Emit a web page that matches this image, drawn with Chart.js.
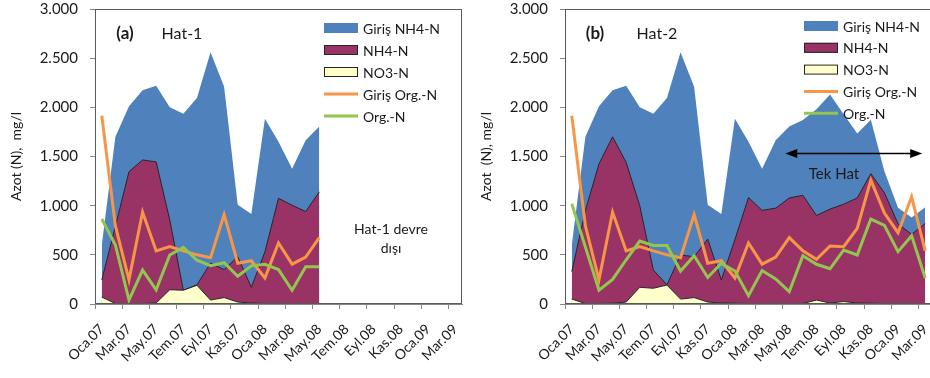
<!DOCTYPE html>
<html>
<head>
<meta charset="utf-8">
<script src="https://cdn.jsdelivr.net/npm/chart.js@4"></script>
<style>
  body { margin: 0; width: 930px; height: 378px; overflow: hidden; background: #fff; position: relative; }
  canvas { position: absolute; top: 0; }
  #hat1 { left: 0; }
  #hat2 { left: 470px; }
</style>
</head>
<body>
<canvas id="hat1" width="470" height="378"></canvas>
<canvas id="hat2" width="470" height="378"></canvas>
<script>
const months = ["Oca.07", "Şub.07", "Mar.07", "Nis.07", "May.07", "Haz.07", "Tem.07", "Ağu.07", "Eyl.07",
  "Eki.07", "Kas.07", "Ara.07", "Oca.08", "Şub.08", "Mar.08", "Nis.08", "May.08", "Haz.08", "Tem.08",
  "Ağu.08", "Eyl.08", "Eki.08", "Kas.08", "Ara.08", "Oca.09", "Şub.09", "Mar.09"];

// inlet (same for both lines)
const girisNH4 = [600, 1700, 2010, 2175, 2220, 2000, 1935, 2095, 2560, 2210, 1010, 915, 1885, 1650,
  1375, 1665, 1805, 1870, 1980, 2130, 1930, 1735, 1875, 1350, 980, 880, 985];
const girisOrg = [1915, 795, 245, 935, 540, 585, 540, 500, 470, 910, 415, 440, 265, 620, 405, 478,
  675, 540, 455, 590, 583, 770, 1260, 925, 725, 1090, 540];

// Hat-1 (out of service after May.08)
const hat1NH4 = [245, 790, 1345, 1465, 1445, 855, 140, 195, 415, 350, 480, 170, 530, 1075, 1005, 940, 1140];
const hat1NO3 = [70, 5, 5, 5, 10, 145, 140, 190, 40, 65, 20, 10, 5, 3, 2, 2, 2];
const hat1Org = [865, 600, 40, 345, 145, 498, 575, 445, 390, 420, 282, 388, 404, 350, 140, 380, 380];

// Hat-2
const hat2NH4 = [330, 950, 1425, 1700, 1440, 1000, 345, 195, 498, 481, 660, 244, 655, 1083, 952, 975,
  1078, 1105, 900, 965, 1015, 1078, 1325, 1130, 815, 709, 818];
const hat2NO3 = [50, 5, 5, 8, 20, 170, 160, 193, 50, 65, 20, 10, 8, 5, 3, 3, 3, 5, 40, 10, 25, 10, 8, 5, 3, 3, 3];
const hat2Org = [1020, 580, 140, 250, 450, 640, 595, 595, 335, 490, 270, 414, 335, 85, 340, 255, 125,
  490, 404, 358, 549, 498, 864, 800, 532, 695, 265];

const FONT = "Lato, 'Open Sans', sans-serif";
const AXIS = "#868686";
const TEXT = "#1a1a1a";

function fmt(v) {
  if (v < 1000) return String(v);
  return Math.floor(v / 1000) + "." + String(v % 1000).padStart(3, "0");
}

// frame, in-plot legend, labels and the arrow
const notes = {
  id: "notes",
  afterDraw(chart, args, o) {
    const { ctx, chartArea: a, scales: { x, y } } = chart;
    ctx.save();
    ctx.strokeStyle = "#595959";
    ctx.lineWidth = 1;
    ctx.strokeRect(a.left + 0.5, a.top + 0.5, a.width - 1, a.height - 1);

    ctx.font = "14px " + FONT;
    ctx.textBaseline = "middle";
    chart.data.datasets.forEach((ds, i) => {
      const lx = o.legendX, ly = o.legendY + i * o.legendStep;
      if (ds.fill) {
        ctx.fillStyle = ds.backgroundColor;
        ctx.fillRect(lx, ly - 5, 34, 10);
        if (ds.borderWidth) {
          ctx.strokeStyle = "#262626";
          ctx.strokeRect(lx + 0.5, ly - 4.5, 33, 9);
        }
      } else {
        ctx.strokeStyle = ds.borderColor;
        ctx.lineWidth = 3;
        ctx.beginPath();
        ctx.moveTo(lx, ly);
        ctx.lineTo(lx + 34, ly);
        ctx.stroke();
        ctx.lineWidth = 1;
      }
      ctx.fillStyle = TEXT;
      ctx.textAlign = "left";
      ctx.fillText(ds.label, lx + 39, ly + 1);
    });

    ctx.textAlign = "center";
    o.texts.forEach(t => {
      ctx.font = t.font + " " + FONT;
      ctx.fillStyle = TEXT;
      ctx.fillText(t.text, a.left + t.x, t.y);
    });

    if (o.arrow) {
      const x1 = x.getPixelForValue(o.arrow.from) - 4;
      const x2 = x.getPixelForValue(o.arrow.to) - 3;
      const yy = y.getPixelForValue(o.arrow.value);
      ctx.strokeStyle = "#000";
      ctx.fillStyle = "#000";
      ctx.lineWidth = 1.5;
      ctx.beginPath();
      ctx.moveTo(x1 + 8, yy);
      ctx.lineTo(x2 - 8, yy);
      ctx.stroke();
      [[x1, 1], [x2, -1]].forEach(([px, d]) => {
        ctx.beginPath();
        ctx.moveTo(px, yy);
        ctx.lineTo(px + d * 12, yy - 4.5);
        ctx.lineTo(px + d * 12, yy + 4.5);
        ctx.closePath();
        ctx.fill();
      });
    }
    ctx.restore();
  }
};

function makeChart(id, n, nh4, no3, org, yTitle, notesOpts) {
  return new Chart(document.getElementById(id), {
    type: "line",
    data: {
      labels: months,
      datasets: [
        { label: "Giriş NH4-N", data: girisNH4.slice(0, n), fill: "origin", backgroundColor: "#4F81BD",
          borderWidth: 0, order: 4 },
        { label: "NH4-N", data: nh4, fill: "origin", backgroundColor: "#993366", borderColor: "#262626",
          borderWidth: 1, order: 3 },
        { label: "NO3-N", data: no3, fill: "origin", backgroundColor: "#FFFFCC", borderColor: "#262626",
          borderWidth: 1, order: 2 },
        { label: "Giriş Org.-N", data: girisOrg.slice(0, n), fill: false, borderColor: "#F79646",
          borderWidth: 3, order: 1 },
        { label: "Org.-N", data: org, fill: false, borderColor: "#92C64E", borderWidth: 3, order: 0 }
      ]
    },
    options: {
      responsive: false,
      animation: false,
      events: [],
      layout: { padding: { top: 9, right: 8, left: 0, bottom: 0 } },
      elements: { point: { radius: 0 }, line: { tension: 0 } },
      plugins: { legend: { display: false }, tooltip: { enabled: false }, notes: notesOpts },
      scales: {
        x: {
          type: "category",
          offset: true,
          grid: {
            offset: true, drawOnChartArea: false, tickLength: 5,
            color: c => (c.index % 2 === 0 ? AXIS : "rgba(0,0,0,0)")
          },
          border: { color: AXIS },
          ticks: {
            autoSkip: false, maxRotation: 45, minRotation: 45, padding: 12, color: TEXT,
            font: { family: FONT, size: 14 },
            callback(v, i) { return i % 2 === 0 ? this.getLabelForValue(v) : ""; }
          },
          afterFit(s) { s.height = 74; s.paddingLeft = 0; s.paddingRight = 0; }
        },
        y: {
          min: 0, max: 3000,
          grid: { drawOnChartArea: false, tickLength: 5, color: AXIS },
          border: { color: AXIS },
          ticks: { stepSize: 500, padding: 12, color: TEXT, font: { family: FONT, size: 15 }, callback: fmt },
          title: { display: true, text: yTitle, color: TEXT, font: { family: FONT, size: 14 },
            padding: { top: 8, bottom: 0 } },
          afterFit(s) { s.width = 95; s.paddingTop = 0; s.paddingBottom = 0; }
        }
      }
    },
    plugins: [notes]
  });
}

makeChart("hat1", 17, hat1NH4, hat1NO3, hat1Org, "Azot (N),  mg/l", {
  legendX: 324, legendY: 28, legendStep: 22,
  texts: [
    { text: "(a)", x: 30, y: 34, font: "bold 17px" },
    { text: "Hat-1", x: 87, y: 34, font: "16px" },
    { text: "Hat-1 devre", x: 296, y: 229, font: "14px" },
    { text: "dışı", x: 296, y: 248, font: "14px" }
  ]
});

makeChart("hat2", 27, hat2NH4, hat2NO3, hat2Org, "Azot  (N), mg/l", {
  legendX: 334, legendY: 26, legendStep: 21.8,
  texts: [
    { text: "(b)", x: 30, y: 34, font: "bold 17px" },
    { text: "Hat-2", x: 92, y: 34, font: "16px" },
    { text: "Tek Hat", x: 269, y: 174, font: "15px" }
  ],
  arrow: { from: 16, to: 26, value: 1530 }
});
</script>
</body>
</html>
